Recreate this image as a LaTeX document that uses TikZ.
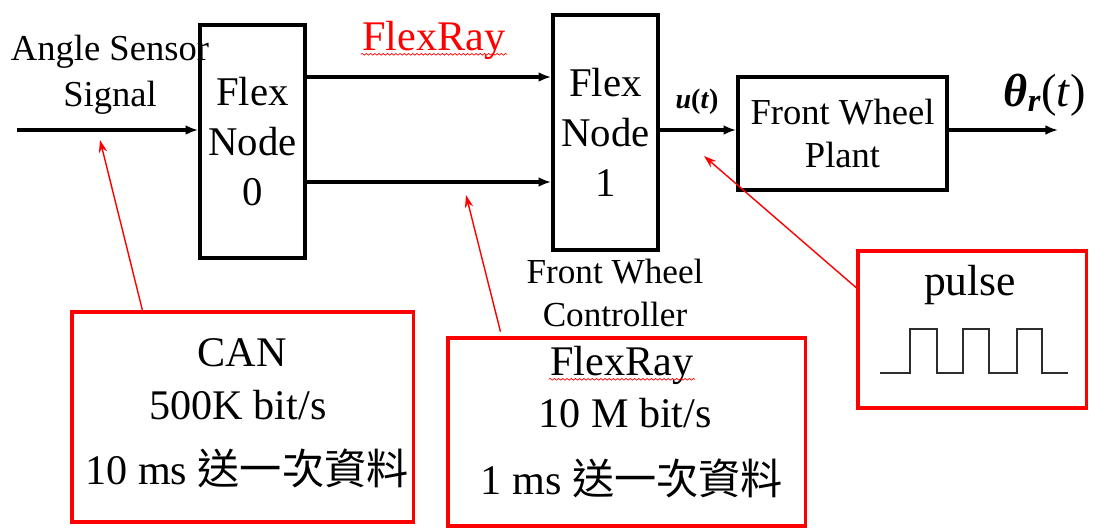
\documentclass[tikz,border=0pt]{standalone}
\usepackage{fontspec}
\setmainfont{Liberation Serif}
\newfontfamily\cjk{Noto Sans CJK TC}
\usepackage{tikz}
\usetikzlibrary{arrows.meta,positioning,decorations.pathmorphing}
\definecolor{sigRed}{RGB}{255,0,0}
\definecolor{sigGray}{RGB}{45,45,45}
\newcommand{\fsz}[2]{\fontsize{#1}{#2}\selectfont}

\begin{document}
\begin{tikzpicture}[x=0.025cm, y=-0.025cm, >=Latex]
\tikzstyle{flexblock}=[draw, line width=2.6pt, align=center, inner sep=0pt, font=\fsz{29pt}{35.6pt}]
\tikzstyle{notebox}=[draw=sigRed, line width=2.2pt, inner sep=0pt]
\tikzstyle{notetext}=[inner sep=1pt, font=\fsz{30pt}{36pt}]
\tikzstyle{sigline}=[-{Latex[length=9pt,width=7pt]}, line width=2.2pt]
\tikzstyle{callout}=[-{Stealth[length=9pt,width=6pt]}, sigRed, line width=1pt]
\tikzstyle{squiggle}=[sigRed, line width=0.5pt, decorate, decoration={snake, amplitude=0.6pt, segment length=3pt}]

\fill[white] (0,0) rectangle (1108,528);
\useasboundingbox (0,0) rectangle (1108,528);

% blocks
\node[flexblock, minimum width=2.625cm, minimum height=5.825cm] (node0) at (252.5,141.5) {Flex\\Node\\0};
\node[flexblock, minimum width=2.625cm, minimum height=5.875cm] (node1) at (605.5,132.5) {Flex\\Node\\1};
\node[flexblock, font=\fsz{26pt}{31pt}, minimum width=5.225cm, minimum height=2.825cm] (plant) at (842.5,133.5) {Front Wheel\\Plant};

\coordinate (sensorIn) at (17,130);
\coordinate (busTop) at (0,77);
\coordinate (busBot) at (0,182);
\coordinate (plantOut) at (1058,130);

\draw[sigline] (sensorIn) -- (sensorIn -| node0.west);
\draw[sigline] (busTop -| node0.east) -- (busTop -| node1.west);
\draw[sigline] (busBot -| node0.east) -- (busBot -| node1.west);
\draw[sigline] (sensorIn -| node1.east) -- (sensorIn -| plant.west);
\draw[sigline] (sensorIn -| plant.east) -- (plantOut);

% labels
\node[align=center, inner sep=1pt, font=\fsz{26pt}{33pt}] (sensorLbl) at (110,75) {Angle Sensor\\Signal};
\node[text=sigRed, inner sep=1pt, font=\fsz{30pt}{36pt}] (busLbl) at (434,40) {FlexRay};
\draw[squiggle] ([yshift=-3pt]busLbl.base west) -- ([yshift=-3pt]busLbl.base east);
\node[inner sep=1pt, font=\fsz{20pt}{24pt}] (ctrlLbl) at (697,102) {\textbf{\textit{u}(\textit{t})}};
\node[inner sep=1pt, font=\fsz{33pt}{38pt}] (outLbl) at (1045,95) {\textbf{\textit{θ}}\textsubscript{\textbf{\textit{r}}}(\textit{t})};
\node[align=center, inner sep=1pt, font=\fsz{25pt}{31pt}] (ctrlName) at (615,293) {Front Wheel\\Controller};

% notes
\node[notebox, minimum width=8.525cm, minimum height=5.25cm] (canBox) at (242.5,417) {};
\node[notetext] (canA) at (242,353) {CAN};
\node[notetext] (canB) at (238,405) {500K bit/s};
\node[notetext] (canC) at (247,468) {10 ms {\cjk 送一次資料}};

\node[notebox, minimum width=8.925cm, minimum height=4.7cm] (frBox) at (626.5,432) {};
\node[notetext] (frA) at (622,365) {FlexRay};
\draw[squiggle] ([yshift=-3pt]frA.base west) -- ([yshift=-3pt]frA.base east);
\node[notetext] (frB) at (625,413) {10 M bit/s};
\node[notetext] (frC) at (632,478) {1 ms {\cjk 送一次資料}};

\node[notebox, minimum width=5.7cm, minimum height=3.925cm] (pulseBox) at (972,329.5) {};
\node[notetext, font=\fsz{31pt}{36pt}] (pulseLbl) at (970,285) {pulse};
\draw[sigGray, line width=1.2pt] (880,373) -- (910,373) -- (910,329) -- (937,329) -- (937,373)
  -- (963,373) -- (963,329) -- (989,329) -- (989,373) -- (1017,373) -- (1017,329)
  -- (1042,329) -- (1042,373) -- (1068,373);

% callouts
\coordinate (canTip) at (100,140);
\coordinate (busTip) at (466,195);
\coordinate (ctrlTip) at (704,156);
\draw[callout] ([xshift=-2.5cm]canBox.north) -- (canTip);
\draw[callout] ([xshift=-3.15cm, yshift=0.12cm]frBox.north) -- (busTip);
\draw[callout] ([yshift=1.04cm]pulseBox.west) -- (ctrlTip);
\end{tikzpicture}
\end{document}
